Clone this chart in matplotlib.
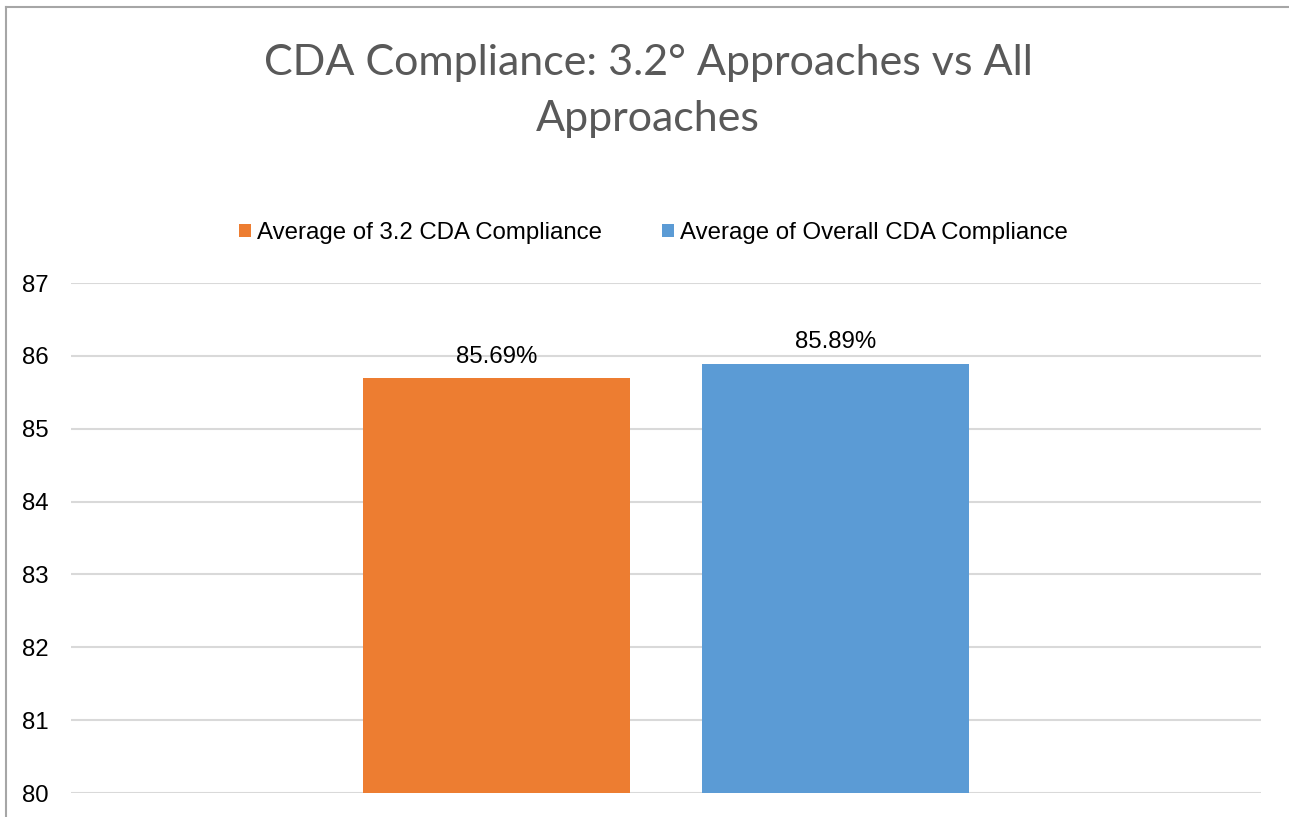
import matplotlib
matplotlib.use("Agg")
import matplotlib.pyplot as plt
from matplotlib.lines import Line2D

title = "CDA Compliance: 3.2° Approaches vs All\nApproaches"
series_names = ["Average of 3.2 CDA Compliance", "Average of Overall CDA Compliance"]
values = [85.69, 85.89]
labels = ["85.69%", "85.89%"]
colors = ["#ED7D31", "#5B9BD5"]
yticks = [80, 81, 82, 83, 84, 85, 86, 87]

W, H = 1289, 817
FS = 17.3
fig = plt.figure(figsize=(W / 100, H / 100), dpi=100)
ax = fig.add_axes([71 / W, 1 - 793 / H, (1261 - 71) / W, (793 - 283) / H])

width = 0.2244
gap = 0.0605
offsets = [-(width + gap) / 2, (width + gap) / 2]
bars = []
for off, v, c, name in zip(offsets, values, colors, series_names):
    b = ax.bar(off, v - 80, bottom=80, width=width, color=c, label=name, zorder=3)
    bars.append(b)
for b, lab in zip(bars, labels):
    r = b[0]
    ax.text(r.get_x() + r.get_width() / 2, r.get_y() + r.get_height() + 0.15, lab,
            ha="center", va="bottom", fontsize=FS, family="Liberation Sans", color="#000000", zorder=4)

ax.set_xlim(-0.5, 0.5)
ax.set_ylim(80, 87)
ax.set_yticks(yticks)
ax.set_xticks([])
ax.grid(axis="y", color="#D9D9D9", linewidth=1.5, zorder=0)
for s in ax.spines.values():
    s.set_visible(False)
ax.tick_params(axis="y", length=0, pad=16, labelsize=FS, labelcolor="#000000")
for t in ax.get_yticklabels():
    t.set_family("Liberation Sans")

fig.text(648 / W, 1 - 91 / H, title, ha="center", va="center", fontsize=31,
         family="Lato", color="#595959", linespacing=1.6)

leg = fig.legend(loc="center", bbox_to_anchor=(653 / W, 1 - 233 / H), ncol=2, frameon=False,
                 prop={"family": "Liberation Sans", "size": FS}, handlelength=0.5, handleheight=0.5,
                 handletextpad=0.25, columnspacing=2.5)

fig.add_artist(Line2D([6 / W, 1], [1 - 7 / H, 1 - 7 / H], transform=fig.transFigure,
                      color="#A6A6A6", linewidth=1.5))
fig.add_artist(Line2D([6 / W, 6 / W], [0, 1 - 7 / H], transform=fig.transFigure,
                      color="#A6A6A6", linewidth=1.5))
fig.savefig("out.png", dpi=100)
